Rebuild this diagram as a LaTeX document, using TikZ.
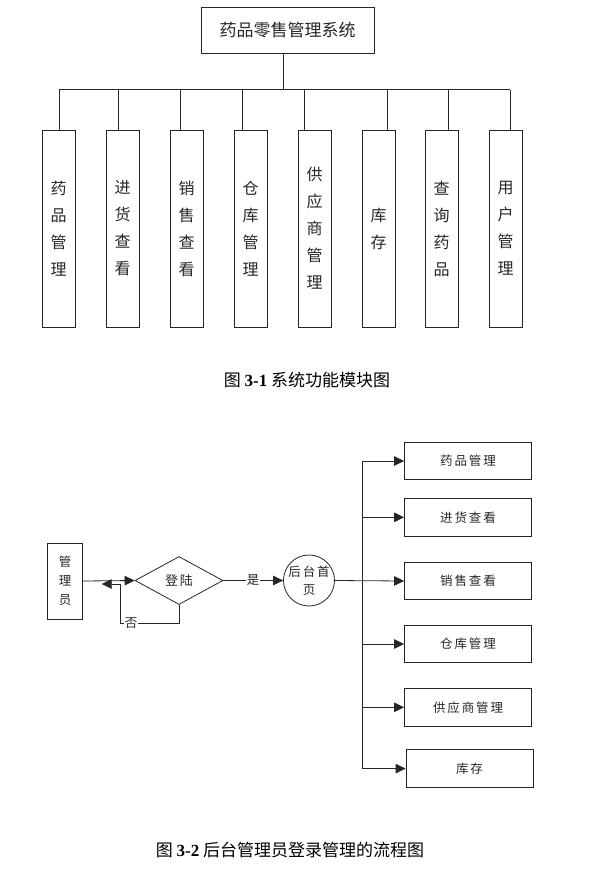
\documentclass[tikz,border=0pt]{standalone}
\usepackage{fontspec}
\setmainfont{Noto Sans CJK SC}
\newfontfamily\tnr{Liberation Serif}
\newfontfamily\cjkwide{Noto Sans CJK SC}[LetterSpace=15]
\usetikzlibrary{arrows.meta}
\usetikzlibrary{shapes.geometric}
\usetikzlibrary{positioning}

\begin{document}
\begin{tikzpicture}[x=1pt,y=-1pt,line width=0.8pt,color=black!85,
		topbox/.style={draw, minimum width=173pt, minimum height=46pt, inner sep=0pt, font=\fontsize{17}{20}\selectfont},
		modbox/.style={draw, minimum width=33pt, minimum height=197pt, inner sep=0pt, align=center, font=\fontsize{16}{27}\selectfont},
		pagebox/.style={draw, minimum width=127pt, minimum height=37.5pt, inner sep=0pt, font=\cjkwide\fontsize{12.5}{15}\selectfont},
		caption/.style={font=\fontsize{17}{20}\selectfont, text=black},
		arr/.style={-{Triangle[length=10pt,width=9.5pt]}}]
		\useasboundingbox (0,0) rectangle (596,876);
		
		% figure 3-1: module tree
		\node[topbox] (sys) at (287.5,30) {药品零售管理系统};
		\foreach \i/\cx/\dx/\txt in {1/58.5/0.5/{药\\品\\管\\理},2/122.5/-4.5/{进\\货\\查\\看},
			3/186.5/-6.5/{销\\售\\查\\看},4/250.5/-8.5/{仓\\库\\管\\理},5/314.5/-10.5/{供\\应\\商\\管\\理},
			6/378.5/8.5/{库\\存},7/441.5/6.5/{查\\询\\药\\品},8/505.5/4.5/{用\\户\\管\\理}}{
			\node[modbox] (m\i) at (\cx,228.5) {\txt};
			\draw ([xshift=\dx pt]m\i.north) -- ++(0,-40) coordinate (d\i);	% drop to bus
		}
		\draw (d1) -- (d8);		% bus
		\coordinate (stem) at ([xshift=-4.5pt]sys.south);
		\draw (stem) -- (stem |- d1);
		\node[caption] (cap1) at (307,380) {图 {\tnr\bfseries 3-1} 系统功能模块图};
		
		% figure 3-2: login flow
		\node[draw, minimum width=35.5pt, minimum height=76pt, inner sep=0pt, align=center,
			font=\fontsize{12.5}{19}\selectfont] (admin) at (65,581) {管\\理\\员};
		\node[draw, diamond, minimum width=88pt, minimum height=48pt, inner sep=0pt,
			font=\cjkwide\fontsize{13}{15}\selectfont] (login) at (179,580.5) {登陆};
		\node[draw, circle, minimum size=50pt, inner sep=0pt, align=center,
			font=\cjkwide\fontsize{12.5}{18.5}\selectfont] (home) at (309,580.5) {后台首\\页};
		
		\node[pagebox] (p1) at (468,461) {药品管理};
		\node[pagebox] (p2) at (468,517.3) {进货查看};
		\node[pagebox] (p3) at (468,581) {销售查看};
		\node[pagebox] (p4) at (468,644) {仓库管理};
		\node[pagebox] (p5) at (468,707.3) {供应商管理};
		\node[pagebox] (p6) at (469.5,768.6) {库存};
		
		\draw[arr] (admin.east) -- (login.west);
		\coordinate (back) at (101.7,584);
		\draw[arr] (login.south) -- ++(0,18.5) -| ([xshift=18.3pt]back) -- (back);	% no: back to admin
		\node[fill=white, inner sep=1pt, font=\fontsize{12.5}{14}\selectfont] (no) at (131,623.5) {否};
		\draw[arr] (login.east) -- node[fill=white, inner sep=1pt, font=\fontsize{12.5}{14}\selectfont] (yes) {是} (home.west);
		
		% branches from home page
		\coordinate (trunk) at (362.3,581);
		\draw[arr] (home.east) -- (p3.west);
		\draw (trunk |- p1.west) -- (trunk |- p6.west);
		\foreach \i in {1,2,4,5,6}
			\draw[arr] (trunk |- p\i.west) -- (p\i.west);
		
		\node[caption] (cap2) at (290,850) {图 {\tnr\bfseries 3-2} 后台管理员登录管理的流程图};
\end{tikzpicture}
\end{document}
